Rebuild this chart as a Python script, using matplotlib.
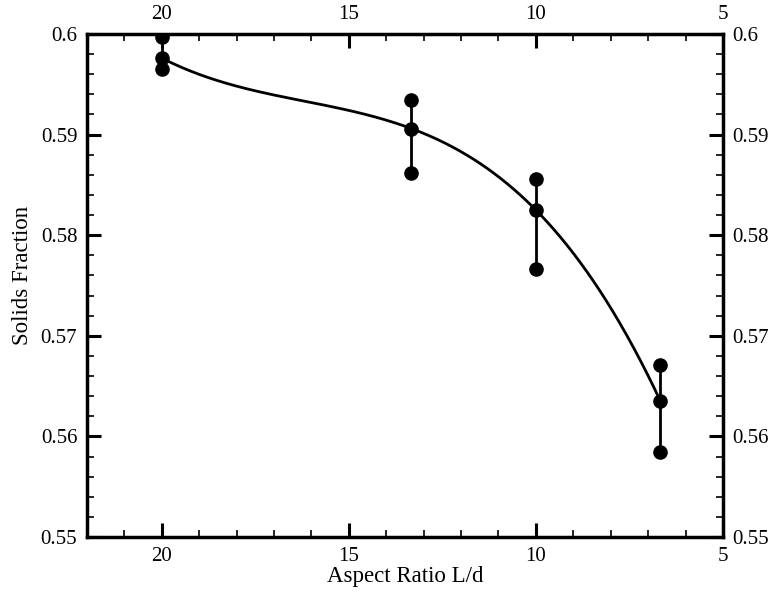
import numpy as np
import matplotlib
matplotlib.use("Agg")
import matplotlib.pyplot as plt
from matplotlib.ticker import MultipleLocator

plt.rcParams['font.family'] = ['Liberation Serif', 'DejaVu Serif']

# Data
aspect_ratio = [20.0, 13.33, 10.0, 6.67]
sf_mean = [0.5976, 0.5906, 0.5825, 0.5635]
sf_high = [0.5997, 0.5934, 0.5856, 0.5671]
sf_low = [0.5965, 0.5862, 0.5766, 0.5584]

x_ticks = [20, 15, 10, 5]
x_ticklabels = ["20", "15", "10", "5"]
y_ticks = [0.55, 0.56, 0.57, 0.58, 0.59, 0.60]
y_ticklabels = ["0.55", "0.56", "0.57", "0.58", "0.59", "0.6"]

fig = plt.figure(figsize=(7.68, 5.95), dpi=100)
ax = fig.add_axes([0.1133, 0.0975, 0.828, 0.8454])

# smooth fitted curve through the mean points
coef = np.polyfit(aspect_ratio, sf_mean, 3)
xs = np.linspace(min(aspect_ratio), max(aspect_ratio), 300)
ax.plot(xs, np.polyval(coef, xs), color='black', lw=2)

for x, m, hi, lo in zip(aspect_ratio, sf_mean, sf_high, sf_low):
    ax.plot([x, x], [lo, hi], color='black', lw=2)
    ax.plot([x, x, x], [lo, m, hi], 'o', color='black', ms=9.5)

ax.set_xlim(22, 5)
ax.set_ylim(0.55, 0.60)
ax.set_xticks(x_ticks)
ax.set_xticklabels(x_ticklabels)
ax.set_yticks(y_ticks)
ax.set_yticklabels(y_ticklabels)
ax.xaxis.set_minor_locator(MultipleLocator(1))
ax.yaxis.set_minor_locator(MultipleLocator(0.002))

ax.tick_params(which='both', direction='in', top=True, right=True,
               labeltop=True, labelright=True, labelsize=15, width=1.5)
ax.tick_params(which='major', length=10, width=2.2, pad=7)
ax.tick_params(which='minor', length=5, width=1.2)
for s in ax.spines.values():
    s.set_linewidth(2.5)

ax.set_xlabel("Aspect Ratio L/d", fontsize=16.5, labelpad=0)
ax.set_ylabel("Solids Fraction", fontsize=16.5)
ax.yaxis.set_label_coords(-0.085, 0.52)

fig.savefig("out.png", dpi=100)
